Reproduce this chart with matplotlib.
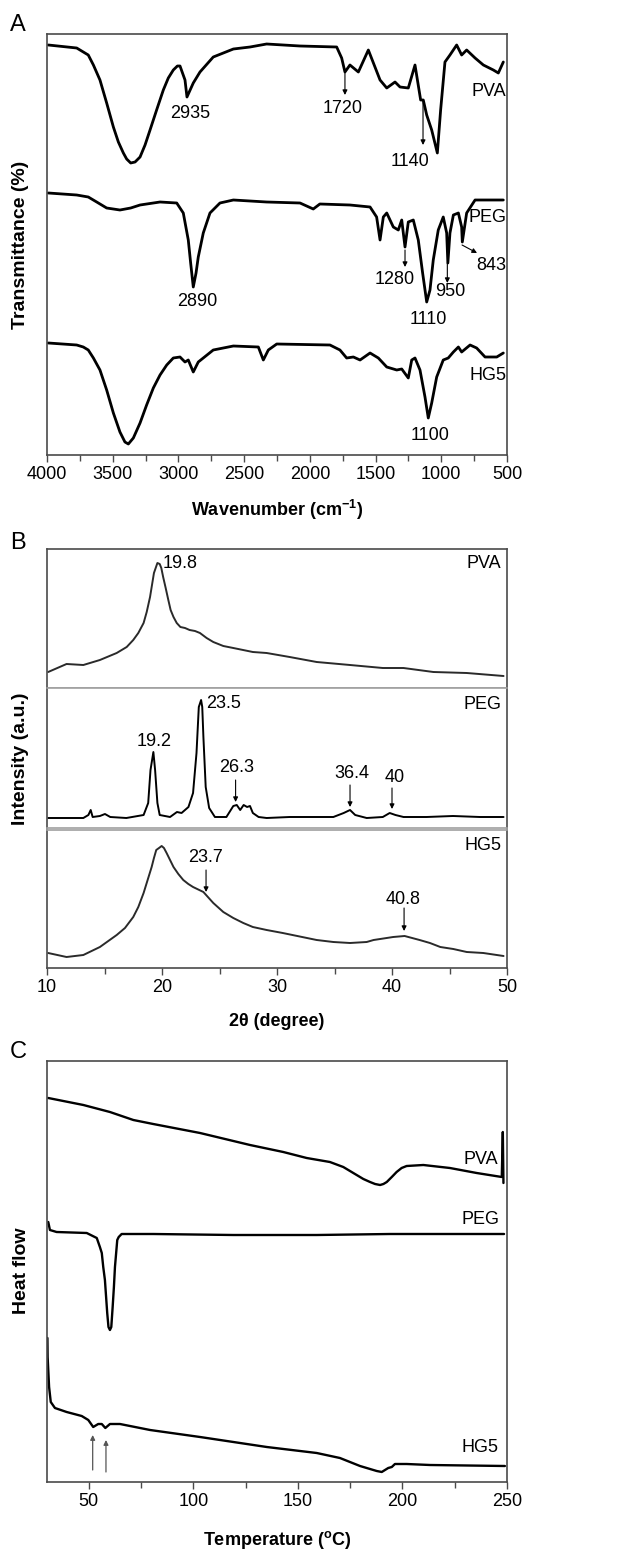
import matplotlib.pyplot as plt
from matplotlib.ticker import MultipleLocator

plt.rcParams['font.family'] = ['Liberation Sans', 'DejaVu Sans']
plt.rcParams['mathtext.fontset'] = 'custom'
plt.rcParams['mathtext.rm'] = 'Liberation Sans'
plt.rcParams['mathtext.bf'] = 'Liberation Sans:bold'
plt.rcParams['mathtext.default'] = 'regular'
plt.rcParams['lines.solid_joinstyle'] = 'round'
plt.rcParams['lines.solid_capstyle'] = 'round'

# ---- (A) FTIR, wavenumber (cm-1) vs stacked transmittance (a.u.) ----
pva_ir_w = [3990, 3774, 3686, 3647, 3597, 3546, 3495, 3457, 3419, 3394, 3363, 3330, 3292, 3254,
            3216, 3166, 3115, 3077, 3039, 3008, 2988, 2950, 2935, 2887, 2836, 2735, 2582, 2455,
            2329, 2075, 1796, 1758, 1733, 1695, 1631, 1555, 1466, 1415, 1352, 1314, 1251, 1200,
            1157, 1137, 1111, 1073, 1030, 1005, 972, 934, 883, 845, 807, 743, 680, 604, 566, 528]
pva_ir_t = [410, 407, 400, 390, 375, 352, 328, 313, 302, 296, 292, 293, 298, 310,
            325, 345, 365, 377, 385, 389, 389, 375, 358, 372, 383, 398, 406, 408,
            411, 409, 408, 397, 383, 390, 383, 405, 375, 367, 373, 368, 367, 390,
            355, 355, 340, 325, 302, 345, 393, 400, 410, 400, 405, 397, 390, 385, 382, 393]

peg_ir_w = [3990, 3774, 3686, 3622, 3546, 3445, 3363, 3292, 3140, 3013, 2963, 2925, 2907, 2887,
            2866, 2849, 2811, 2760, 2684, 2582, 2329, 2075, 1974, 1924, 1695, 1542, 1492, 1466,
            1441, 1415, 1365, 1327, 1301, 1276, 1251, 1213, 1175, 1142, 1111, 1086, 1061, 1023,
            985, 959, 950, 934, 908, 870, 845, 840, 807, 743, 528]
peg_ir_t = [262, 260, 258, 253, 247, 245, 247, 250, 253, 252, 242, 215, 192, 168,
            182, 198, 222, 242, 252, 255, 253, 252, 246, 251, 250, 248, 238, 215,
            238, 242, 228, 225, 235, 208, 233, 235, 215, 182, 153, 165, 195, 225,
            238, 222, 192, 222, 240, 242, 228, 213, 242, 255, 255]

hg5_ir_w = [3990, 3774, 3724, 3686, 3647, 3597, 3546, 3495, 3445, 3407, 3381, 3343, 3292, 3242,
            3191, 3140, 3089, 3039, 2988, 2950, 2925, 2887, 2849, 2735, 2582, 2392, 2354, 2316,
            2252, 1847, 1771, 1720, 1669, 1618, 1542, 1479, 1415, 1339, 1301, 1251, 1225, 1200,
            1162, 1124, 1099, 1073, 1035, 985, 947, 908, 870, 845, 781, 731, 667, 578, 528]
hg5_ir_t = [112, 110, 108, 105, 97, 85, 65, 42, 23, 13, 11, 17, 32, 50,
            67, 80, 90, 97, 98, 93, 95, 83, 93, 105, 109, 108, 95, 105,
            111, 110, 105, 97, 98, 95, 102, 97, 88, 85, 86, 77, 95, 97,
            85, 58, 37, 52, 78, 95, 97, 103, 108, 103, 110, 107, 98, 98, 102]

# ---- (B) XRD, 2theta (degree) vs intensity (a.u.) ----
pva_xrd_x = [10.1, 11.7, 13.16, 14.6, 16.06, 16.93, 17.5, 17.94, 18.4, 18.67, 18.96, 19.13, 19.3,
             19.45, 19.6, 19.8, 19.94, 20.1, 20.32, 20.55, 20.75, 21.0, 21.28, 21.6, 22.0, 22.4,
             22.87, 23.3, 23.88, 24.46, 25.33, 26.2, 27.9, 29.1, 31.1, 33.45, 36.35, 39.2, 41.0,
             43.6, 46.5, 49.7]
pva_xrd_y = [16, 24, 23, 28, 35, 41, 48, 55, 65, 76, 91, 103, 115,
             120, 125, 124, 120, 111, 100, 88, 78, 71, 65, 61, 60, 58,
             57, 55, 50, 46, 42, 40, 36, 35, 31, 26, 23, 20, 20,
             16, 15, 12]

peg_xrd_x = [10.1, 13.16, 13.6, 13.8, 13.97, 14.6, 15.04, 15.5, 16.9, 18.4, 18.8, 19.0, 19.25,
             19.4, 19.6, 19.8, 20.7, 21.3, 21.7, 22.3, 22.7, 23.0, 23.2, 23.4, 23.5, 23.6, 23.8,
             24.1, 24.6, 25.6, 26.2, 26.5, 26.8, 27.1, 27.4, 27.65, 27.9, 28.4, 29.1, 31.1, 32.9,
             34.9, 35.8, 36.35, 36.8, 37.8, 39.2, 39.8, 40.3, 41.0, 43.0, 45.3, 47.65, 49.7]
peg_xrd_y = [10, 10, 13, 18, 11, 12, 14, 11, 10, 13, 25, 58, 76,
             58, 25, 13, 11, 16, 15, 21, 35, 75, 121, 128, 121, 91, 41,
             20, 11, 11, 22, 23, 18, 23, 21, 22, 15, 11, 10, 11, 11,
             11, 15, 18, 13, 10, 11, 15, 13, 11, 11, 12, 11, 11]

hg5_xrd_x = [10.1, 11.7, 13.16, 14.6, 16.06, 16.78, 17.5, 17.94, 18.4, 18.75, 19.1, 19.3, 19.5,
             19.74, 19.97, 20.17, 20.4, 20.7, 21.0, 21.42, 21.85, 22.29, 22.7, 23.6, 24.46, 25.33,
             26.2, 27.07, 27.9, 29.1, 30.5, 33.45, 34.9, 36.35, 37.8, 38.4, 39.54, 40.1, 41.1,
             42.4, 43.3, 44.2, 45.33, 46.5, 47.94, 49.7]
hg5_xrd_y = [15, 11, 13, 21, 33, 40, 51, 61, 75, 88, 101, 110, 118,
             120, 122, 120, 115, 108, 101, 94, 88, 84, 81, 76, 65, 56,
             50, 45, 41, 38, 35, 28, 26, 25, 26, 28, 30, 31, 32,
             28, 25, 21, 19, 16, 15, 12]

# ---- (C) DSC, temperature (C) vs heat flow (a.u.) ----
pva_dsc_t = [30.6, 47.4, 60.1, 71.3, 80.8, 103.2, 127.1, 143.0, 154.2, 165.3, 171.7, 178.1,
             181.3, 184.5, 186.9, 189.3, 190.9, 192.5, 194.9, 197.2, 199.6, 202.0, 210.0, 222.7,
             235.5, 247.5, 248.0, 248.3]
pva_dsc_h = [384, 377, 370, 362, 358, 349, 337, 330, 324, 320, 315, 307,
             303, 300, 298, 297, 298, 300, 305, 310, 314, 316, 317, 314,
             309, 305, 350, 299]

peg_dsc_t = [30.6, 31.4, 34.6, 49.0, 53.8, 55.3, 56.2, 56.9, 57.7, 58.8, 59.4, 60.1, 60.75,
             61.4, 62.0, 62.5, 63.6, 64.3, 65.7, 80.8, 119.1, 159.0, 194.0, 248.6]
peg_dsc_h = [260, 252, 250, 249, 244, 235, 229, 215, 202, 169, 155, 152, 155,
             175, 195, 215, 242, 245, 248, 248, 247, 247, 248, 248]

hg5_dsc_t = [30.2, 30.3, 31.0, 31.8, 33.8, 39.4, 46.6, 49.75, 52.1, 54.5, 56.2, 57.9, 60.1,
             64.9, 79.3, 103.2, 135.1, 159.0, 170.1, 179.7, 184.5, 187.7, 190.1, 193.2, 194.9,
             196.4, 202.0, 213.2, 249.0]
hg5_dsc_h = [144, 125, 95, 80, 74, 70, 66, 62, 55, 58, 58, 54, 58,
             58, 52, 45, 35, 29, 24, 16, 13, 11, 10, 14, 15,
             18, 18, 17, 16]

W, H = 638, 1551
frame = '#4a4a4a'


def rect(top, bottom, left=47, right=507):
    return [left / W, 1 - bottom / H, (right - left) / W, (bottom - top) / H]


def style(ax, color=frame):
    for s in ax.spines.values():
        s.set_color(color)
        s.set_linewidth(1.2)
    ax.set_yticks([])
    ax.tick_params(axis='x', which='both', direction='out', color=frame, width=1,
                   labelsize=13, pad=3)
    ax.tick_params(axis='x', which='major', length=5)
    ax.tick_params(axis='x', which='minor', length=4)


def arrow(ax, x, y0, y1, color='k', x1=None, lw=0.8):
    ax.annotate('', xy=(x if x1 is None else x1, y1), xytext=(x, y0),
                arrowprops=dict(arrowstyle='-|>', color=color, lw=lw,
                                mutation_scale=7, shrinkA=0, shrinkB=0))


fig = plt.figure(figsize=(W / 100, H / 100), dpi=100)
txt = dict(fontsize=13, va='center')

# ---------------- A ----------------
axA = fig.add_axes(rect(34, 455))
axA.plot(pva_ir_w, pva_ir_t, color='k', lw=2.0)
axA.plot(peg_ir_w, peg_ir_t, color='k', lw=2.0)
axA.plot(hg5_ir_w, hg5_ir_t, color='k', lw=2.0)
axA.set_xlim(4000, 500)
axA.set_ylim(0, 421)
axA.xaxis.set_major_locator(MultipleLocator(500))
axA.xaxis.set_minor_locator(MultipleLocator(250))
style(axA)
axA.text(2912, 342, '2935', ha='center', **txt)
axA.text(1748, 347, '1720', ha='center', **txt)
arrow(axA, 1733, 382, 360)
axA.text(1238, 293, '1140', ha='center', **txt)
arrow(axA, 1139, 355, 310)
axA.text(505, 364, 'PVA', ha='right', **txt)
axA.text(505, 237, 'PEG', ha='right', **txt)
axA.text(505, 190, '843', ha='right', **txt)
arrow(axA, 842, 210, 202, x1=728)
axA.text(1352, 175, '1280', ha='center', **txt)
arrow(axA, 1276, 205, 188)
axA.text(934, 163, '950', ha='center', **txt)
arrow(axA, 954, 192, 172)
axA.text(2859, 153, '2890', ha='center', **txt)
axA.text(1101, 135, '1110', ha='center', **txt)
axA.text(505, 80, 'HG5', ha='right', **txt)
axA.text(1086, 20, '1100', ha='center', **txt)

# ---------------- B ----------------
sep = '#a0a0a0'
axB1 = fig.add_axes(rect(549, 688))
axB2 = fig.add_axes(rect(688, 828))
axB3 = fig.add_axes(rect(830, 968))
axB1.plot(pva_xrd_x, pva_xrd_y, color='#2a2a2a', lw=1.4)
axB2.plot(peg_xrd_x, peg_xrd_y, color='k', lw=1.4)
axB3.plot(hg5_xrd_x, hg5_xrd_y, color='#2a2a2a', lw=1.4)
for ax, top in ((axB1, 139), (axB2, 140), (axB3, 138)):
    ax.set_xlim(10, 50)
    ax.set_ylim(0, top)
    ax.xaxis.set_major_locator(MultipleLocator(10))
    ax.xaxis.set_minor_locator(MultipleLocator(5))
    style(ax)
for ax in (axB1, axB2):
    ax.tick_params(axis='x', which='both', labelbottom=False, length=0)
axB1.spines['bottom'].set_color(sep)
axB2.spines['top'].set_color(sep)
axB2.spines['bottom'].set_color(sep)
axB3.spines['top'].set_color(sep)

axB1.text(20.05, 125, '19.8', ha='left', **txt)
axB1.text(49.5, 125, 'PVA', ha='right', **txt)
axB2.text(49.5, 124, 'PEG', ha='right', **txt)
axB2.text(23.85, 125, '23.5', ha='left', **txt)
axB2.text(19.3, 87, '19.2', ha='center', **txt)
axB2.text(26.5, 60, '26.3', ha='center', **txt)
arrow(axB2, 26.4, 48, 26)
axB2.text(36.5, 55, '36.4', ha='center', **txt)
arrow(axB2, 36.35, 43, 21)
axB2.text(40.2, 51, '40', ha='center', **txt)
arrow(axB2, 40.0, 40, 19)
axB3.text(49.5, 123, 'HG5', ha='right', **txt)
axB3.text(23.8, 110, '23.7', ha='center', **txt)
arrow(axB3, 23.83, 98, 76)
axB3.text(41.0, 68, '40.8', ha='center', **txt)
arrow(axB3, 41.05, 60, 37)

# ---------------- C ----------------
axC = fig.add_axes(rect(1061, 1482))
axC.plot(pva_dsc_t, pva_dsc_h, color='k', lw=1.7)
axC.plot(peg_dsc_t, peg_dsc_h, color='k', lw=1.7)
axC.plot(hg5_dsc_t, hg5_dsc_h, color='k', lw=1.7)
axC.set_xlim(30, 250)
axC.set_ylim(0, 421)
axC.xaxis.set_major_locator(MultipleLocator(50))
axC.xaxis.set_minor_locator(MultipleLocator(25))
style(axC)
axC.text(245.8, 323, 'PVA', ha='right', **txt)
axC.text(246.2, 262, 'PEG', ha='right', **txt)
axC.text(245.8, 34, 'HG5', ha='right', **txt)
arrow(axC, 51.85, 12, 47, color='#555555', lw=0.9)
arrow(axC, 58.2, 10, 42, color='#555555', lw=0.9)

# ---------------- labels ----------------
lab = dict(fontsize=13, fontweight='bold', ha='center', va='center')
fig.text(277 / W, 1 - 510 / H, 'Wavenumber (cm$^{-1}$)', **lab)
fig.text(277 / W, 1 - 1022 / H, '2θ (degree)', **lab)
fig.text(277 / W, 1 - 1540 / H, 'Temperature ($^{o}$C)', **lab)
ylab = dict(fontsize=14, fontweight='bold', ha='center', va='center', rotation=90)
fig.text(21 / W, 1 - 245 / H, 'Transmittance (%)', **ylab)
fig.text(21 / W, 1 - 759 / H, 'Intensity (a.u.)', **ylab)
fig.text(21 / W, 1 - 1271 / H, 'Heat flow', **ylab)
pl = dict(fontsize=17, ha='center', va='center')
fig.text(18 / W, 1 - 25 / H, 'A', **pl)
fig.text(18 / W, 1 - 543 / H, 'B', **pl)
fig.text(18 / W, 1 - 1052 / H, 'C', **pl)

fig.savefig('out.png', dpi=100)
